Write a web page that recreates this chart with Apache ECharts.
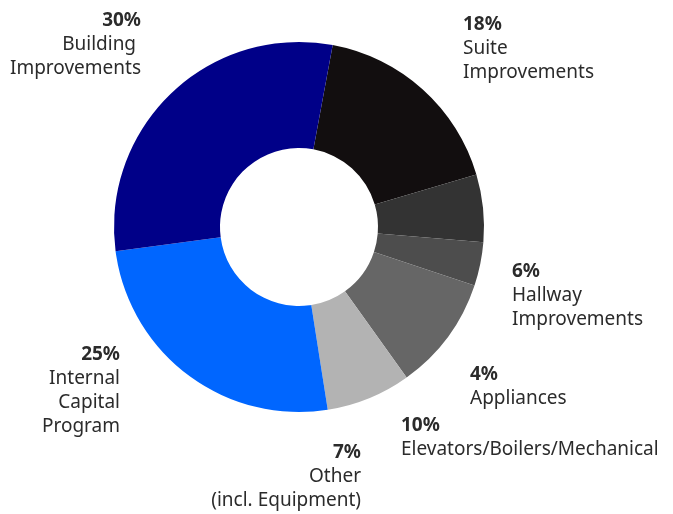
<!DOCTYPE html>
<html>
<head>
<meta charset="utf-8">
<script src="https://cdn.jsdelivr.net/npm/echarts@6/dist/echarts.min.js"></script>
<style>
  html, body { margin: 0; padding: 0; background: #fff; }
  #chart { width: 673px; height: 514px; }
</style>
</head>
<body>
<div id="chart"></div>
<script>
// slices, clockwise from the top
const names = [
  'Suite\nImprovements',
  'Hallway\nImprovements',
  'Appliances',
  'Elevators/Boilers/Mechanical',
  'Other\n(incl. Equipment)',
  'Internal\nCapital\nProgram',
  'Building \nImprovements'
]
const values = [17.5, 5.9, 3.8, 10.0, 7.4, 25.4, 30.0]
const colors = ['#120e0f', '#333333', '#4d4d4d', '#666666', '#b3b3b3', '#0066ff', '#000088']

// where each label block sits (top corner) and how it is aligned
const labelPos = [
  { x: 463, y: 13, align: 'left' },
  { x: 512, y: 260, align: 'left' },
  { x: 470, y: 363, align: 'left' },
  { x: 401, y: 414, align: 'left' },
  { x: 361, y: 441, align: 'right' },
  { x: 120, y: 343, align: 'right' },
  { x: 141, y: 9, align: 'right' }
]

const chart = echarts.init(document.getElementById('chart'))

chart.setOption({
  animation: false,
  series: [{
    type: 'pie',
    center: [299, 227],
    radius: [79, 185],
    startAngle: 79.5,
    clockwise: true,
    silent: true,
    data: values.map((v, i) => ({
      value: v,
      name: names[i],
      itemStyle: { color: colors[i] }
    })),
    label: {
      show: true,
      position: 'outside',
      overflow: 'none',
      formatter: p => '{b|' + Math.round(p.value) + '%}\n{n|' + p.name + '}',
      rich: {
        b: { fontFamily: 'Noto Sans', fontWeight: 'bold', fontSize: 19, lineHeight: 24, color: '#2b2b2b' },
        n: { fontFamily: 'Noto Sans', fontSize: 19, lineHeight: 24, color: '#2b2b2b' }
      }
    },
    labelLine: { show: false },
    labelLayout: p => ({
      x: labelPos[p.dataIndex].x,
      y: labelPos[p.dataIndex].y,
      align: labelPos[p.dataIndex].align,
      verticalAlign: 'top'
    })
  }]
})
</script>
</body>
</html>
